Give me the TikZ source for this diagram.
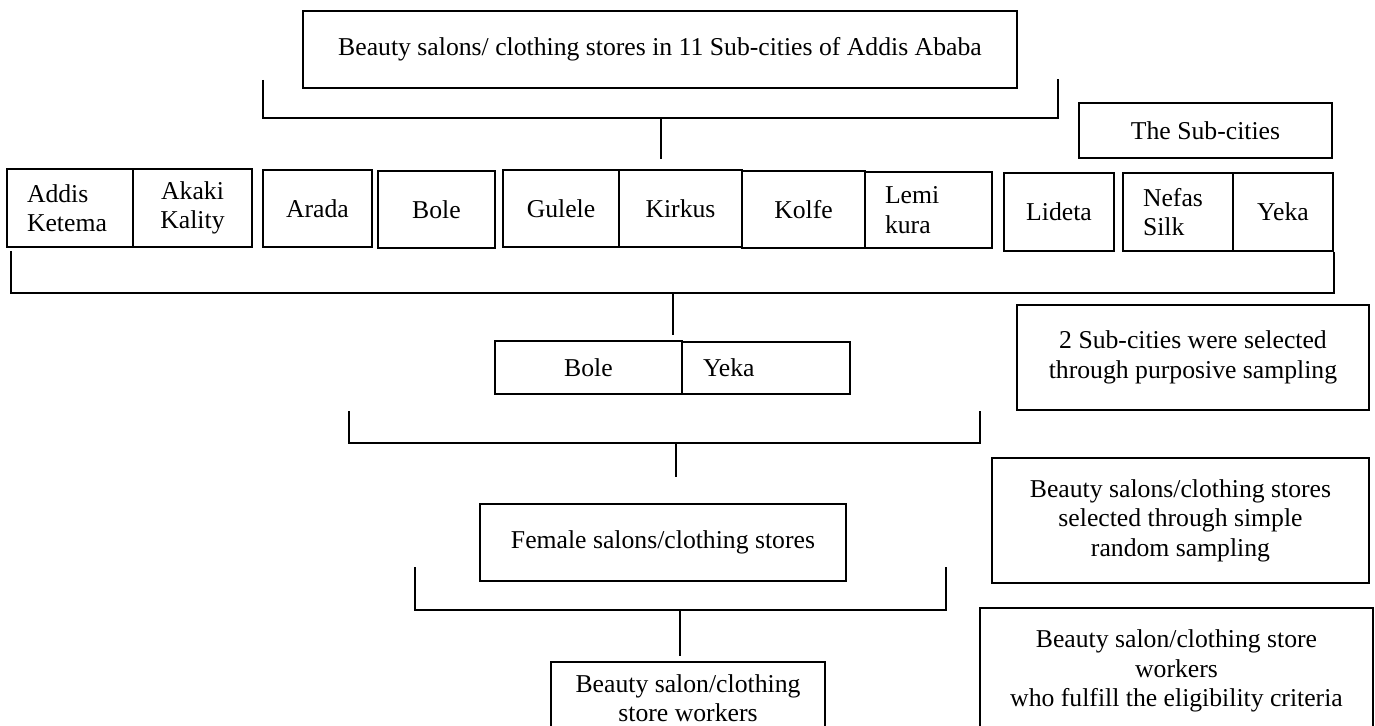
\documentclass[tikz,border=0pt]{standalone}
\usepackage{fontspec}
\setmainfont{Liberation Serif}
\usetikzlibrary{positioning}
\newcommand{\px}{0.467pt}

\begin{document}
\begin{tikzpicture}[
    x=0.467pt, y=-0.467pt,
    box/.style={
        rectangle,
        draw=black,
        line width=0.6pt,
        inner sep=0pt,
        align=center,
        font=\fontsize{12}{13.8}\selectfont
    },
    cell/.style 2 args={minimum width=#1*\px, minimum height=#2*\px},
    lbox/.style={box, align=left, text width=#1*\px},
    bracket/.style={line width=1pt},
    stem/.style={line width=1.3pt}
]
    \useasboundingbox (0,0) rectangle (1375,726);
    \clip (0,0) rectangle (1375,726);

    % Population
    \node[box, cell={714}{77}] (salons) at (660,49.5)
        {Beauty salons/ clothing stores in 11 Sub-cities of Addis Ababa};
    \node[box, cell={253}{55}] (subcities) at (1205.5,130.5) {The Sub-cities};

    % Sub-cities
    \node[lbox=86, cell={126}{78}] (addis) at (70,208) {Addis\\Ketema};
    \node[box, cell={119}{78}] (akaki) at (192.5,208) {Akaki\\Kality};
    \node[box, cell={109}{77}] (arada) at (317.5,208.5) {Arada};
    \node[box, cell={117}{77}] (bole) at (436.5,209.5) {Bole};
    \node[box, cell={116}{77}] (gulele) at (561,208.5) {Gulele};
    \node[box, cell={123}{77}] (kirkus) at (680.5,208.5) {Kirkus};
    \node[box, cell={123}{77}] (kolfe) at (803.5,209.5) {Kolfe};
    \node[lbox=87, cell={127}{76}] (lemi) at (928.5,210) {Lemi\\kura};
    \node[box, cell={110}{78}] (lideta) at (1059,212) {Lideta};
    \node[lbox=70, cell={110}{78}] (nefas) at (1178,212) {Nefas\\Silk};
    \node[box, cell={100}{78}] (yeka) at (1283,212) {Yeka};

    % Selected sub-cities
    \node[box, cell={187}{53}] (selbole) at (588.5,367.5) {Bole};
    \node[lbox=126, cell={168}{52}] (selyeka) at (766,368) {Yeka};
    \node[box, cell={352}{105}] (purposive) at (1193,357.5)
        {2 Sub-cities were selected\\through purposive sampling};

    % Stores and workers
    \node[box, cell={366}{77}] (female) at (663,542.5) {Female salons/clothing stores};
    \node[box, cell={377}{125}] (random) at (1180.5,520.5)
        {Beauty salons/clothing stores\\selected through simple\\random sampling};
    \node[box, cell={274}{72}] (workers) at (688,698)
        {Beauty salon/clothing\\store workers};
    \node[box, cell={393}{126}] (eligible) at (1176.5,671)
        {Beauty salon/clothing store\\workers\\who fulfill the eligibility criteria};

    % Brackets
    \coordinate (b1l) at (263,80);
    \coordinate (b1m) at (661,118);
    \coordinate (b1r) at (1058,79);
    \coordinate (b1s) at (661,159);
    \draw[bracket] (b1l) |- (b1m) -| (b1r);
    \draw[stem] (b1m) -- (b1s);

    \coordinate (b2l) at (11,251);
    \coordinate (b2m) at (673,293);
    \coordinate (b2s) at (673,335);
    \draw[bracket] (b2l) |- (b2m) -| (yeka.south east);
    \draw[stem] (b2m) -- (b2s);

    \coordinate (b3l) at (349,411);
    \coordinate (b3m) at (676,443);
    \coordinate (b3r) at (980,411);
    \coordinate (b3s) at (676,477);
    \draw[bracket] (b3l) |- (b3m) -| (b3r);
    \draw[stem] (b3m) -- (b3s);

    \coordinate (b4l) at (415,567);
    \coordinate (b4m) at (680,610);
    \coordinate (b4r) at (946,567);
    \coordinate (b4s) at (680,656);
    \draw[bracket] (b4l) |- (b4m) -| (b4r);
    \draw[stem] (b4m) -- (b4s);

\end{tikzpicture}
\end{document}
